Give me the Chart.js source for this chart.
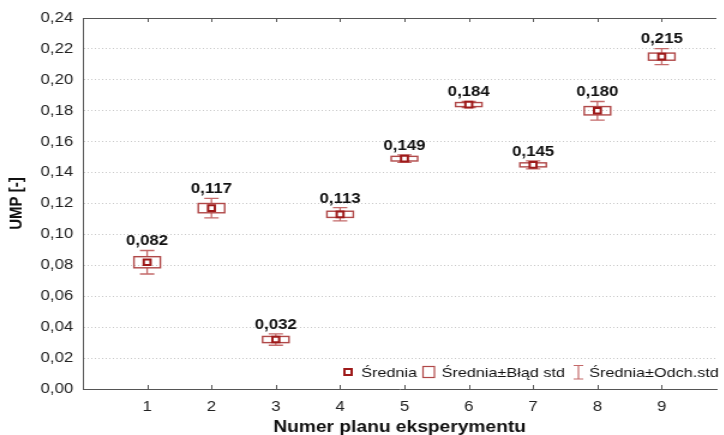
<!DOCTYPE html>
<html lang="pl">
<head>
<meta charset="UTF-8">
<title>UMP</title>
<script src="https://cdn.jsdelivr.net/npm/chart.js"></script>
<style>
    html,body{margin:0;padding:0;background:#fff;overflow:hidden;}
    #frame{width:724px;height:435px;overflow:hidden;}
    /* the original picture is stretched sideways, so the chart is too */
    #wrap{width:603px;height:435px;transform:scaleX(1.2);transform-origin:0 0;}
</style>
</head>
<body>
<div id="frame"><div id="wrap"><canvas id="myChart" width="603" height="435"></canvas></div></div>

<script>
// dane
const plans = [1, 2, 3, 4, 5, 6, 7, 8, 9];
const means = [0.082, 0.117, 0.032, 0.113, 0.149, 0.184, 0.145, 0.180, 0.215];
const stdErr = [0.0036, 0.0030, 0.0020, 0.0020, 0.0015, 0.0013, 0.0013, 0.0027, 0.0023];
const stdDev = [0.0076, 0.0063, 0.0037, 0.0043, 0.0024, 0.0020, 0.0026, 0.0060, 0.0052];
const valueLabels = ['0,082', '0,117', '0,032', '0,113', '0,149', '0,184', '0,145', '0,180', '0,215'];
const yTicks = [0, 0.02, 0.04, 0.06, 0.08, 0.10, 0.12, 0.14, 0.16, 0.18, 0.20, 0.22, 0.24];

const FONT = "'Liberation Sans', Arial, sans-serif";
const meanColor = '#9e1a1a';
const boxColor = '#b04848';
const whiskColor = '#c46a6a';
const axisColor = '#555';

Chart.defaults.font.family = FONT;

// pudelka, wasy, etykiety i legenda
const boxPlugin = {
    id: 'boxes',
    beforeDatasetsDraw(chart) {
        const {ctx, chartArea, scales: {x, y}} = chart;
        ctx.save();
        // gorna krawedz i znaczniki do srodka
        ctx.strokeStyle = axisColor;
        ctx.lineWidth = 1;
        ctx.beginPath();
        ctx.moveTo(chartArea.left, chartArea.top + 0.5);
        ctx.lineTo(chartArea.right, chartArea.top + 0.5);
        plans.forEach(p => {
            const px = Math.round(x.getPixelForValue(p)) + 0.5;
            ctx.moveTo(px, chartArea.top);
            ctx.lineTo(px, chartArea.top + 4);
            ctx.moveTo(px, chartArea.bottom);
            ctx.lineTo(px, chartArea.bottom - 4);
        });
        ctx.stroke();

        plans.forEach((p, i) => {
            const cx = x.getPixelForValue(p);
            const bTop = y.getPixelForValue(means[i] + stdErr[i]);
            const bBot = y.getPixelForValue(means[i] - stdErr[i]);
            const wTop = y.getPixelForValue(means[i] + stdDev[i]);
            const wBot = y.getPixelForValue(means[i] - stdDev[i]);
            const hw = 11, cw = 6;
            // wasy
            ctx.strokeStyle = whiskColor;
            ctx.lineWidth = 1.3;
            ctx.beginPath();
            ctx.moveTo(cx, wTop); ctx.lineTo(cx, bTop);
            ctx.moveTo(cx, bBot); ctx.lineTo(cx, wBot);
            ctx.moveTo(cx - cw, wTop); ctx.lineTo(cx + cw, wTop);
            ctx.moveTo(cx - cw, wBot); ctx.lineTo(cx + cw, wBot);
            ctx.stroke();
            // pudelko
            ctx.strokeStyle = boxColor;
            ctx.lineWidth = 1.4;
            ctx.strokeRect(cx - hw, bTop, hw * 2, bBot - bTop);
        });
        ctx.restore();
    },
    afterDatasetsDraw(chart) {
        const {ctx, chartArea, scales: {x, y}} = chart;
        ctx.save();
        ctx.fillStyle = '#111';
        ctx.font = 'bold 14px ' + FONT;
        ctx.textAlign = 'center';
        ctx.textBaseline = 'middle';
        plans.forEach((p, i) => {
            const cx = x.getPixelForValue(p);
            const wTop = y.getPixelForValue(means[i] + stdDev[i]);
            ctx.fillText(valueLabels[i], cx, wTop - 9);
        });

        // legenda
        const ly = chartArea.bottom - 17;
        const r = chartArea.right + 5;
        ctx.font = '13.5px ' + FONT;
        ctx.textAlign = 'left';
        // Srednia
        ctx.strokeStyle = meanColor;
        ctx.lineWidth = 2;
        ctx.fillStyle = '#fff';
        ctx.fillRect(r - 315, ly - 3, 6, 6);
        ctx.strokeRect(r - 315, ly - 3, 6, 6);
        ctx.fillStyle = '#111';
        ctx.fillText('Średnia', r - 301, ly + 1);
        // pudelko
        ctx.strokeStyle = boxColor;
        ctx.lineWidth = 1.2;
        ctx.strokeRect(r - 249.5, ly - 5.5, 9.5, 11);
        ctx.fillText('Średnia±Błąd std', r - 234, ly + 1);
        // wasy
        ctx.strokeStyle = whiskColor;
        ctx.beginPath();
        ctx.moveTo(r - 120, ly - 6.5); ctx.lineTo(r - 120, ly + 7);
        ctx.moveTo(r - 124, ly - 6.5); ctx.lineTo(r - 116, ly - 6.5);
        ctx.moveTo(r - 124, ly + 7); ctx.lineTo(r - 116, ly + 7);
        ctx.stroke();
        ctx.fillText('Średnia±Odch.std', r - 111, ly + 1);
        ctx.restore();
    }
};

const ctx = document.getElementById('myChart').getContext('2d');
const myChart = new Chart(ctx, {
    type: 'scatter',
    data: {
        datasets: [{
            label: 'Średnia',
            data: plans.map((p, i) => ({x: p, y: means[i]})),
            pointStyle: 'rect',
            pointRadius: 4,
            pointHoverRadius: 4,
            pointBorderWidth: 2,
            borderColor: meanColor,
            backgroundColor: '#fff'
        }]
    },
    options: {
        responsive: false,
        animation: false,
        events: [],
        layout: {padding: {top: 18, right: 0, bottom: 0, left: 0}},
        plugins: {legend: {display: false}, tooltip: {enabled: false}},
        scales: {
            x: {
                type: 'linear',
                min: 0,
                max: 9.85,
                afterBuildTicks: s => { s.ticks = plans.map(v => ({value: v})); },
                afterFit: s => { s.height = 46; },
                grid: {display: false},
                border: {display: true, color: axisColor, width: 1},
                ticks: {
                    color: '#222',
                    font: {size: 14},
                    padding: 2,
                    autoSkip: false,
                    maxRotation: 0,
                    callback: v => String(v)
                },
                title: {
                    display: true,
                    text: 'Numer planu eksperymentu',
                    color: '#111',
                    font: {size: 16, weight: 'bold'},
                    padding: {top: 0, bottom: -2}
                }
            },
            y: {
                min: 0,
                max: 0.24,
                afterBuildTicks: s => { s.ticks = yTicks.map(v => ({value: v})); },
                afterFit: s => { s.width = 69; },
                grid: {color: '#c8c8c8', lineWidth: 1, drawTicks: false},
                border: {display: true, color: axisColor, width: 1, dash: [1, 2]},
                ticks: {
                    color: '#222',
                    font: {size: 14},
                    padding: 8,
                    callback: v => v.toFixed(2).replace('.', ',')
                },
                title: {
                    display: true,
                    text: 'UMP [-]',
                    color: '#111',
                    font: {size: 15, weight: 'bold'},
                    padding: {top: 5, bottom: 0}
                }
            }
        }
    },
    plugins: [boxPlugin]
});
</script>
</body>
</html>
